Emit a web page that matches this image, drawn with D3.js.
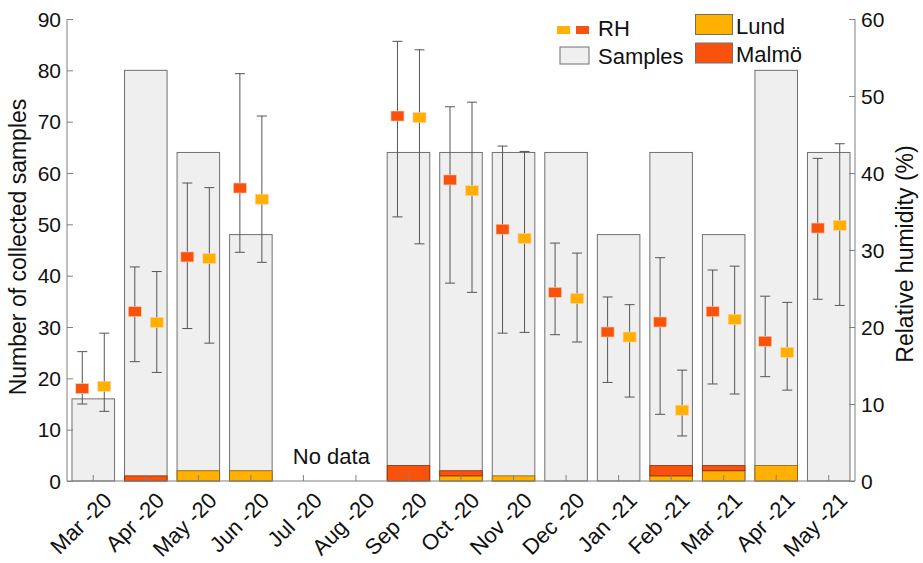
<!DOCTYPE html>
<html><head><meta charset="utf-8">
<script src="https://cdn.jsdelivr.net/npm/d3@7"></script>
<style>body{margin:0;background:#fff}text{font-family:"Liberation Sans",Arial,sans-serif;fill:#111}</style>
</head><body><svg id="c" width="923" height="563"></svg>
<script>
const months = ["Mar -20","Apr -20","May -20","Jun -20","Jul -20","Aug -20","Sep -20","Oct -20","Nov -20","Dec -20","Jan -21","Feb -21","Mar -21","Apr -21","May -21"];
const samples = [16,80,64,48,null,null,64,64,64,64,48,64,48,80,64];
const lund =    [0,0,2,2,null,null,0,1,1,0,0,1,2,3,0];
const malmo =   [0,1,0,0,null,null,3,1,0,0,0,2,1,0,0];
const rhMalmo =     [12.0,22.0,29.1,38.05,null,null,47.4,39.1,32.7,24.5,19.35,20.65,22.0,18.15,32.85];
const rhMalmoLow =  [10.0,15.5,19.8,29.7,null,null,34.3,25.7,19.2,19.0,12.8,8.66,12.6,13.55,23.6];
const rhMalmoHigh = [16.8,27.8,38.7,52.9,null,null,57.1,48.6,43.5,30.9,23.9,29.0,27.4,24.0,41.9];
const rhLund =      [12.3,20.6,28.9,36.6,null,null,47.2,37.7,31.5,23.7,18.7,9.2,21.0,16.7,33.2];
const rhLundLow =   [9.05,14.1,17.9,28.4,null,null,30.8,24.5,19.3,18.05,10.9,5.85,11.3,11.8,22.8];
const rhLundHigh =  [19.2,27.2,38.1,47.4,null,null,56.0,49.2,42.8,29.6,22.9,14.4,27.9,23.2,43.8];
const leftTicks = [0,10,20,30,40,50,60,70,80,90];
const rightTicks = [0,10,20,30,40,50,60];

const C_LUND = "#FFB000", C_MALMO = "#F8520C", C_SAMPLE = "#EFEFEF";
const svg = d3.select("#c");
const x = d3.scaleBand().domain(months).range([67,855]).paddingInner(0.19).paddingOuter(0.095);
const yL = d3.scaleLinear().domain([0,90]).range([481,19]);
const yR = d3.scaleLinear().domain([0,60]).range([481,19]);
const bw = x.bandwidth();

const data = months.map((m,i)=>({m,s:samples[i],l:lund[i],ma:malmo[i],
  rm:rhMalmo[i],rml:rhMalmoLow[i],rmh:rhMalmoHigh[i],rl:rhLund[i],rll:rhLundLow[i],rlh:rhLundHigh[i]}));
const valid = data.filter(d=>d.s!=null);
svg.append("g").selectAll("rect").data(valid).join("rect")
  .attr("x",d=>x(d.m)).attr("width",bw)
  .attr("y",d=>yL(d.s)).attr("height",d=>yL(0)-yL(d.s))
  .attr("fill",C_SAMPLE).attr("stroke","#707070").attr("stroke-width",1);
svg.append("g").selectAll("rect").data(valid.filter(d=>d.l>0)).join("rect")
  .attr("x",d=>x(d.m)).attr("width",bw)
  .attr("y",d=>yL(d.l)).attr("height",d=>yL(0)-yL(d.l))
  .attr("fill",C_LUND).attr("stroke","#8a5a10").attr("stroke-width",0.8);
svg.append("g").selectAll("rect").data(valid.filter(d=>d.ma>0)).join("rect")
  .attr("x",d=>x(d.m)).attr("width",bw)
  .attr("y",d=>yL(d.l+d.ma)).attr("height",d=>yL(d.l)-yL(d.l+d.ma))
  .attr("fill",C_MALMO).attr("stroke","#8a2a08").attr("stroke-width",0.8);

const axCol = "#808080";
const gL = svg.append("g").attr("transform","translate(67,0)")
  .call(d3.axisRight(yL).tickValues(leftTicks).tickSize(6).tickFormat(""));
gL.select(".domain").attr("d","M0,19V481");
gL.selectAll("line,path").attr("stroke",axCol);
svg.append("g").selectAll("text").data(leftTicks).join("text")
  .attr("x",61).attr("y",d=>yL(d)).attr("dy","0.36em").attr("text-anchor","end")
  .attr("font-size",21).text(d=>d);
const gR = svg.append("g").attr("transform","translate(855,0)")
  .call(d3.axisLeft(yR).tickValues(rightTicks).tickSize(6).tickFormat(""));
gR.select(".domain").attr("d","M0,19V481");
gR.selectAll("line,path").attr("stroke",axCol);
svg.append("g").selectAll("text").data(rightTicks).join("text")
  .attr("x",861).attr("y",d=>yR(d)).attr("dy","0.36em").attr("text-anchor","start")
  .attr("font-size",21).text(d=>d);
const gB = svg.append("g").attr("transform","translate(0,481)")
  .call(d3.axisTop(x).tickSize(6).tickFormat(""));
gB.select(".domain").attr("d","M67,0H855");
gB.selectAll("line,path").attr("stroke",axCol);
svg.append("g").selectAll("text").data(months).join("text")
  .attr("transform",m=>`translate(${x(m)+bw/2+9},491) rotate(-45)`)
  .attr("text-anchor","end").attr("dy","0.7em").attr("font-size",22).text(m=>m);

svg.append("text").attr("transform","translate(26,247) rotate(-90)").attr("text-anchor","middle")
  .attr("font-size",23).text("Number of collected samples");
svg.append("text").attr("transform","translate(913,254) rotate(-90)").attr("text-anchor","middle")
  .attr("font-size",23).text("Relative humidity (%)");
svg.append("text").attr("x",x("Jul -20")+bw/2+28).attr("y",464).attr("text-anchor","middle")
  .attr("font-size",22).text("No data");

const off = 11, cap = 5;
function series(key,lo,hi,sign,col){
  const g = svg.append("g");
  const vd = valid.filter(d=>d[key]!=null);
  const cx = d=>x(d.m)+bw/2+sign*off;
  g.selectAll("path").data(vd).join("path")
    .attr("d",d=>`M${cx(d)},${yR(d[lo])}V${yR(d[hi])}M${cx(d)-cap},${yR(d[lo])}h${2*cap}M${cx(d)-cap},${yR(d[hi])}h${2*cap}`)
    .attr("stroke","#555").attr("stroke-width",1).attr("fill","none");
  g.selectAll("rect").data(vd).join("rect")
    .attr("x",d=>cx(d)-6.5).attr("y",d=>yR(d[key])-5).attr("width",13).attr("height",10)
    .attr("fill",col).attr("stroke","#ffd0b0").attr("stroke-width",0.6);
}
series("rm","rml","rmh",-1,C_MALMO);
series("rl","rll","rlh",1,C_LUND);

const lg = svg.append("g");
lg.append("rect").attr("x",557).attr("y",26).attr("width",13).attr("height",8).attr("fill",C_LUND);
lg.append("rect").attr("x",576).attr("y",26).attr("width",13).attr("height",8).attr("fill",C_MALMO);
lg.append("text").attr("x",598).attr("y",36).attr("font-size",22).text("RH");
lg.append("rect").attr("x",560).attr("y",47).attr("width",29).attr("height",17).attr("fill",C_SAMPLE).attr("stroke","#707070");
lg.append("text").attr("x",598).attr("y",64).attr("font-size",22).text("Samples");
lg.append("rect").attr("x",695.5).attr("y",14.5).attr("width",37).attr("height",20).attr("fill",C_LUND).attr("stroke","#707070");
lg.append("text").attr("x",736).attr("y",34).attr("font-size",22).text("Lund");
lg.append("rect").attr("x",695.5).attr("y",43).attr("width",37).attr("height",20).attr("fill",C_MALMO).attr("stroke","#707070");
lg.append("text").attr("x",736).attr("y",62).attr("font-size",22).text("Malmö");
</script></body></html>
